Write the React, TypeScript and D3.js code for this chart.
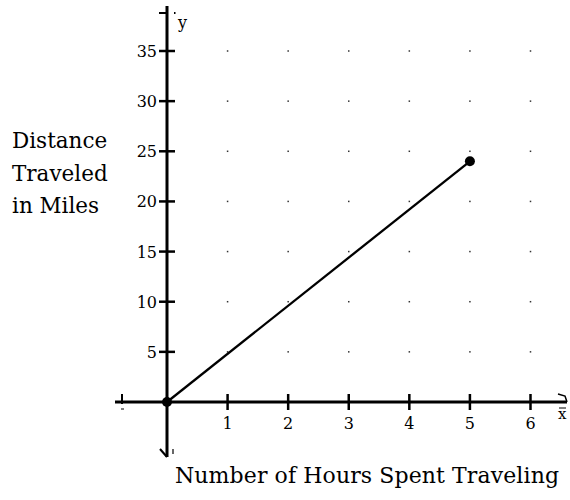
import React from "react";
import * as d3 from "d3";

const xTicks = [1, 2, 3, 4, 5, 6];
const yTicks = [5, 10, 15, 20, 25, 30, 35];
const lineX = [0, 5];
const lineY = [0, 24];
const yTitle = ["Distance", "Traveled", "in Miles"];
const xTitle = "Number of Hours Spent Traveling";

export default function App() {
  const W = 570, H = 500;
  const x = d3.scaleLinear().domain([0, 6]).range([167, 530.5]);
  const y = d3.scaleLinear().domain([0, 35]).range([402, 51]);
  const font = "'DejaVu Serif', serif";
  const pts: [number, number][] = lineX.map((v, i) => [v, lineY[i]]);
  const line = d3.line<[number, number]>().x(d => x(d[0])).y(d => y(d[1]));
  const x0 = x(0), y0 = y(0);
  const dots: [number, number][] = [];
  xTicks.forEach(a => yTicks.forEach(b => dots.push([a, b])));
  return (
    <svg width={W} height={H} style={{ position: "absolute", left: 0, top: 0, background: "#fff" }}>
      {dots.map(([a, b], i) => (
        <rect key={i} x={x(a) - 0.75} y={y(b) - 0.75} width={1.5} height={1.5} fill="#333" />
      ))}
      {/* x axis */}
      <line x1={115} x2={567} y1={y0} y2={y0} stroke="#000" strokeWidth={3} />
      <line x1={122} x2={122} y1={y0 - 8} y2={y0 + 2} stroke="#000" strokeWidth={2} />
      <line x1={121} x2={124} y1={y0 + 7} y2={y0 + 7} stroke="#000" strokeWidth={1} />
      <path d={`M558,${y0 - 8} L565,${y0 - 6} L567,${y0}`} fill="none" stroke="#000" strokeWidth={1.5} />
      <line x1={559} x2={566} y1={y0 + 6} y2={y0 + 6} stroke="#000" strokeWidth={1} />
      {/* y axis */}
      <line x1={x0} x2={x0} y1={6} y2={457} stroke="#000" strokeWidth={3} />
      <line x1={159} x2={167} y1={13} y2={13} stroke="#000" strokeWidth={2} />
      <rect x={174} y={12} width={1.5} height={2} fill="#000" />
      <path d={`M160,449 L167,457`} fill="none" stroke="#000" strokeWidth={2} />
      <line x1={173} x2={173} y1={449} y2={454} stroke="#000" strokeWidth={1.2} />
      {xTicks.map(t => (
        <g key={"xt" + t}>
          <line x1={x(t)} x2={x(t)} y1={y0 - 8} y2={y0 + 8} stroke="#000" strokeWidth={2.5} />
          <text x={x(t)} y={y0 + 27} fontFamily={font} fontSize={16} textAnchor="middle">{t}</text>
        </g>
      ))}
      {yTicks.map(t => (
        <g key={"yt" + t}>
          <line x1={x0 - 8} x2={x0 + 8} y1={y(t)} y2={y(t)} stroke="#000" strokeWidth={2.5} />
          <text x={157} y={y(t) + 6} fontFamily={font} fontSize={16} textAnchor="end">{t}</text>
        </g>
      ))}
      <text x={178} y={28} fontFamily={font} fontSize={16}>y</text>
      <text x={558} y={419} fontFamily={font} fontSize={15}>x</text>
      <path d={line(pts) || ""} fill="none" stroke="#000" strokeWidth={2.3} />
      <circle cx={x(0)} cy={y(0)} r={5} fill="#000" />
      <circle cx={x(5)} cy={y(24)} r={5} fill="#000" />
      {yTitle.map((s, i) => (
        <text key={s} x={12} y={148 + i * 32.5} fontFamily={font} fontSize={21.5}>{s}</text>
      ))}
      <text x={175} y={483} fontFamily={font} fontSize={22} textLength={384} lengthAdjust="spacing">{xTitle}</text>
    </svg>
  );
}
